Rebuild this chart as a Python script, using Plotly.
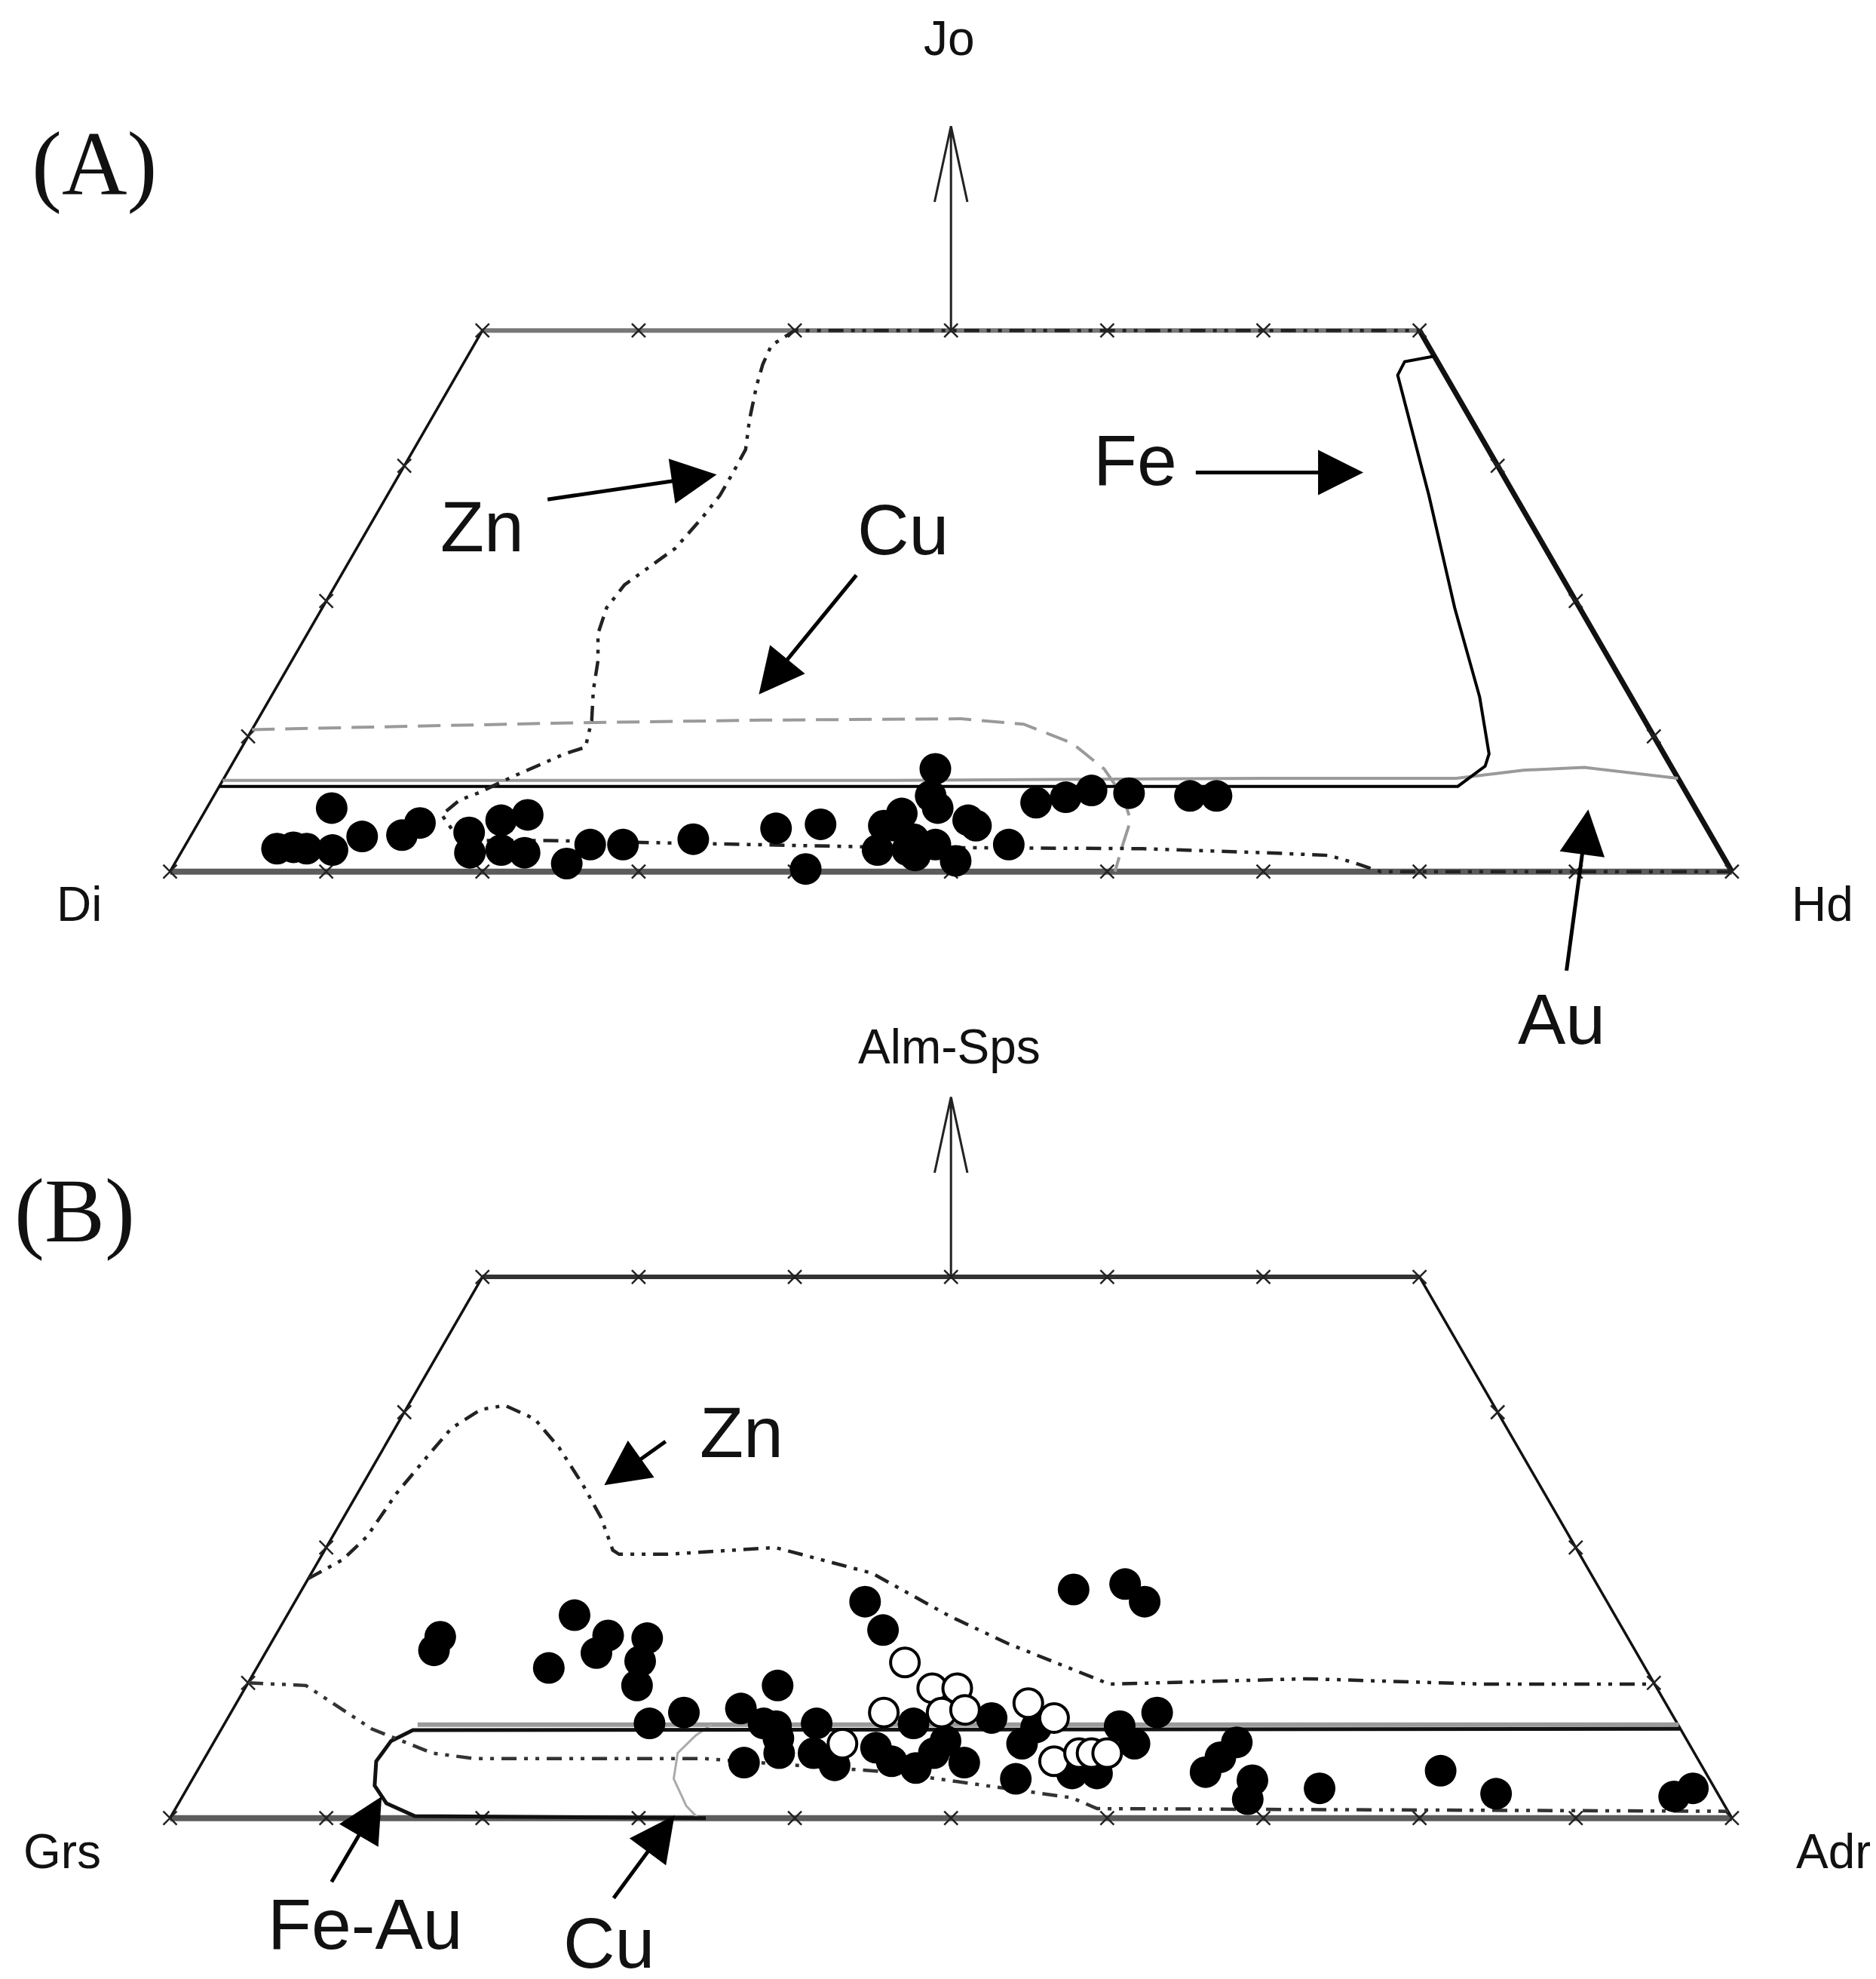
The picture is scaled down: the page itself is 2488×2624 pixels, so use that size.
import plotly.graph_objects as go

# ---------------- Panel A : Di - Hd - Jo pyroxene (mol %, only Jo < 40 shown)
a_dot_hd = [6.0, 7.0, 7.9, 9.6, 8.0, 11.0, 13.5, 14.2, 17.7, 18.5, 19.3, 20.8, 20.4, 22.0,
            25.1, 25.9, 28.0, 32.3, 37.2, 39.9, 40.6, 45.2, 45.9, 44.7, 44.0, 44.5, 46.4,
            47.1, 48.0, 46.8, 49.9, 49.2, 49.9, 52.7, 52.9, 54.6, 56.0, 58.5, 62.5, 64.2,
            46.4, 44.7]
a_dot_jo = [1.7, 1.8, 1.7, 1.6, 4.7, 2.6, 2.7, 3.6, 2.9, 1.4, 3.8, 4.2, 1.6, 1.4,
            0.6, 2.0, 2.0, 2.4, 3.2, 3.5, 0.2, 7.6, 5.6, 3.4, 3.4, 1.6, 1.6,
            1.2, 2.0, 4.7, 0.8, 3.8, 3.4, 2.0, 5.1, 5.5, 6.0, 5.8, 5.6, 5.6,
            2.4, 4.3]

# skarn fields, panel A
a_zn_hd = [100, 77.5, 75.5, 73.6, 69.4, 61.4, 45.2, 23.0, 17.4, 15.3, 15.9, 16.8, 18.4, 19.6,
           20.9, 22.0, 21.4, 20.4, 19.6, 18.6, 18.2, 18.5, 19.3, 20.4, 21.0, 21.3, 21.3,
           21.25, 20.4, 19.6, 19.2, 19.05, 20.0, 60.0]
a_zn_jo = [0, 0, 0.65, 1.2, 1.4, 1.7, 1.8, 2.3, 2.3, 4.2, 5.3, 5.8, 7.0, 7.85,
           8.7, 9.2, 11.2, 13.4, 15.6, 17.6, 19.5, 21.2, 22.3, 23.9, 26.2, 27.8, 29.5,
           31.2, 33.4, 35.9, 37.5, 38.9, 40.0, 40.0]
a_cu_hd = [0, 20.3, 32.4, 45.0, 49.2, 53.0, 56.0, 58.2, 59.6, 60.0, 60.5]
a_cu_jo = [10.5, 11.0, 11.2, 11.3, 10.9, 9.5, 7.6, 5.6, 3.8, 2.0, 0]
a_fe_hd = [0, 34.8, 79.3, 80.3, 80.1, 77.4, 72.5, 66.7, 61.6, 60.25, 60.2, 61.9]
a_fe_jo = [6.3, 6.3, 6.3, 7.8, 8.7, 12.9, 19.5, 27.8, 34.8, 36.7, 37.7, 38.1]
a_au_hd = [0, 42.7, 66.8, 78.9, 82.9, 86.7, 93.1]
a_au_jo = [6.75, 6.75, 6.9, 6.9, 7.5, 7.7, 6.9]

# ---------------- Panel B : Grs - Adr - (Alm+Sps) garnet
b_dot_hd = [10.7, 10.6, 18.7, 18.4, 21.2, 21.3, 23.9, 25.0, 24.3, 27.2, 29.0, 34.0, 32.5,
            35.4, 34.7, 36.6, 34.5, 36.0, 37.9, 40.6, 36.5, 38.7, 44.1, 45.9, 44.1, 48.8,
            48.9, 52.7, 51.8, 52.1, 56.1, 57.7, 57.4, 59.0, 59.3, 49.4, 52.5, 54.4, 64.6,
            65.5, 65.0, 68.3, 67.9, 72.5, 79.6, 84.0, 95.5, 96.4, 46.8, 46.5, 42.6, 38.8]
b_dot_jo = [12.4, 13.4, 11.1, 15.0, 12.2, 13.5, 13.3, 9.8, 11.6, 7.0, 7.8, 9.8, 8.1,
            6.8, 4.1, 4.8, 7.0, 5.9, 7.0, 3.9, 16.0, 13.9, 7.0, 3.7, 4.2, 4.1,
            7.4, 2.9, 5.5, 6.7, 3.3, 3.3, 6.8, 5.5, 7.8, 16.9, 17.3, 16.0, 3.4,
            5.6, 4.5, 1.4, 2.8, 2.2, 3.5, 1.8, 1.6, 2.2, 5.7, 4.8, 5.2, 4.8]
b_open_hd = [41.3, 44.0, 45.6, 45.5, 46.9, 41.8, 40.3, 50.7, 52.9, 54.5, 55.8, 56.6, 57.6]
b_open_jo = [11.5, 9.6, 9.6, 7.8, 8.0, 7.8, 5.5, 8.5, 7.4, 4.2, 4.8, 4.8, 4.8]

b_znu_hd = [0, 1.5, 2.2, 2.5, 3.1, 3.6, 4.8, 6.2, 8.6, 11.2, 14.1, 16.5, 18.45, 19.0, 22.1,
            28.75, 35.9, 42.4, 47.2, 51.9, 55.2, 67.6, 79.2, 90.1]
b_znu_jo = [17.7, 19.1, 20.8, 24.0, 26.7, 28.8, 30.2, 30.5, 29.5, 27.4, 24.65, 22.2, 19.8, 19.5, 19.5,
            20.0, 18.1, 14.95, 12.9, 11.15, 9.9, 10.3, 9.9, 9.9]
b_znl_hd = [0, 3.8, 9.6, 14.4, 17.3, 31.95, 44.4, 57.0, 59.0, 99.5]
b_znl_jo = [10.0, 9.8, 6.6, 4.8, 4.4, 4.4, 3.4, 1.5, 0.7, 0.5]
b_feau_hd = [93.4, 12.3, 11.3, 11.1, 11.9, 13.3, 15.6, 34.3]
b_feau_jo = [6.6, 6.5, 5.7, 4.2, 2.4, 1.1, 0.15, 0]
b_cutop_hd = [12.4, 93.15]
b_cutop_jo = [6.9, 6.9]
b_cu_hd = [31.2, 30.6, 30.1, 30.8, 32.6, 33.8]
b_cu_jo = [6.9, 6.1, 4.8, 2.9, 0.9, 0]

# frame of the truncated triangle, corners and ticks (mol %)
frame_hd = [0, 100, 60, 0, 0]
frame_jo = [0, 0, 40, 40, 0]
tick_hd = [0, 10, 20, 30, 40, 50, 60, 70, 80, 90, 100, 0, 10, 20, 30, 40, 50, 60,
           0, 0, 0, 90, 80, 70]
tick_jo = [0] * 11 + [40] * 7 + [10, 20, 30, 10, 20, 30]


def tx(hd, jo):
    # ternary -> horizontal position (Jo is used directly on y, aspect fixed by ranges)
    return [h + j / 2 for h, j in zip(hd, jo)]


fig = go.Figure()
ZN_DASH = "20px,10px,5px,10px,5px,10px"
FONT = "Liberation Sans, Arial, sans-serif"


def line(hd, jo, color, width, dash="solid", p=""):
    fig.add_trace(go.Scatter(x=tx(hd, jo), y=jo, mode="lines", xaxis="x" + p, yaxis="y" + p,
                             line=dict(color=color, width=width, dash=dash), hoverinfo="skip"))


for p, right_w, top_c in [("", 7, "#777"), ("2", 3.5, "#333")]:
    line(frame_hd[0:2], frame_jo[0:2], "#5c5c5c", 8, p=p)
    line(frame_hd[1:3], frame_jo[1:3], "#111", right_w, p=p)
    line(frame_hd[2:4], frame_jo[2:4], top_c, 6, p=p)
    line(frame_hd[3:5], frame_jo[3:5], "#111", 3.5, p=p)
    fig.add_trace(go.Scatter(x=tx(tick_hd, tick_jo), y=tick_jo, mode="markers",
                             xaxis="x" + p, yaxis="y" + p, hoverinfo="skip",
                             marker=dict(symbol="x-thin", size=18,
                                         line=dict(color="#222", width=2.5))))

# panel A fields
line(a_cu_hd, a_cu_jo, "#9a9a9a", 4, "30px,14px")
line(a_au_hd, a_au_jo, "#9a9a9a", 4)
line(a_fe_hd, a_fe_jo, "#000", 4)
line(a_zn_hd, a_zn_jo, "#222", 4.5, ZN_DASH)
# panel B fields
line(b_cutop_hd, b_cutop_jo, "#9a9a9a", 6, p="2")
line(b_cu_hd, b_cu_jo, "#aaaaaa", 3, p="2")
line(b_feau_hd, b_feau_jo, "#111", 5, p="2")
line(b_znu_hd, b_znu_jo, "#222", 4.5, ZN_DASH, p="2")
line(b_znl_hd, b_znl_jo, "#333", 4.5, ZN_DASH, p="2")

fig.add_trace(go.Scatter(x=tx(a_dot_hd, a_dot_jo), y=a_dot_jo, mode="markers",
                         marker=dict(size=42, color="black"), hoverinfo="skip"))
fig.add_trace(go.Scatter(x=tx(b_dot_hd, b_dot_jo), y=b_dot_jo, mode="markers", xaxis="x2", yaxis="y2",
                         marker=dict(size=42, color="black"), hoverinfo="skip"))
fig.add_trace(go.Scatter(x=tx(b_open_hd, b_open_jo), y=b_open_jo, mode="markers", xaxis="x2", yaxis="y2",
                         marker=dict(size=38, color="white", line=dict(color="black", width=4)),
                         hoverinfo="skip"))

ann = []


def label(text, x, y, size, p="", family=FONT):
    ann.append(dict(text=text, x=x, y=y, xref="x" + p, yref="y" + p, showarrow=False,
                    xanchor="center", yanchor="middle", font=dict(family=family, size=size, color="#111")))


def arrow(x0, y0, x1, y1, p=""):
    ann.append(dict(text="", x=x1, y=y1, ax=x0, ay=y0, xref="x" + p, yref="y" + p,
                    axref="x" + p, ayref="y" + p, showarrow=True, arrowhead=2, arrowsize=2.4,
                    arrowwidth=5, arrowcolor="black"))


label("(A)", -4.85, 52.3, 120, family="Liberation Serif, Times New Roman, serif")
label("Jo", 49.9, 61.6, 64)
label("Di", -5.8, -2.4, 64)
label("Hd", 105.8, -2.4, 64)
label("Zn", 20.0, 25.5, 95)
label("Cu", 46.9, 25.3, 95)
label("Fe", 61.8, 30.4, 95)
label("Au", 89.1, -10.9, 95)
arrow(24.1, 27.5, 35.0, 29.35)
arrow(44.0, 22.0, 37.7, 13.1)
arrow(65.6, 29.5, 76.4, 29.5)
arrow(89.4, -7.4, 90.8, 4.6)

label("(B)", -6.1, 44.9, 120, "2", family="Liberation Serif, Times New Roman, serif")
label("Alm-Sps", 49.9, 57.0, 64, "2")
label("Grs", -6.9, -2.5, 64, "2")
label("Adr", 106.5, -2.5, 64, "2")
label("Zn", 36.6, 28.5, 95, "2")
label("Fe-Au", 12.5, -7.8, 95, "2")
label("Cu", 28.1, -9.2, 95, "2")
arrow(31.8, 27.9, 27.8, 24.6, "2")
arrow(10.3, -4.8, 13.55, 1.6, "2")
arrow(28.35, -6.0, 32.3, 0.2, "2")

shapes = [
    dict(type="path", xref="x", yref="y", line=dict(color="#222", width=3),
         path="M 50 40 L 50 55.1 M 48.95 49.5 L 50 55.1 L 51.05 49.5"),
    dict(type="path", xref="x2", yref="y2", line=dict(color="#222", width=3),
         path="M 50 40 L 50 53.3 M 48.95 47.7 L 50 53.3 L 51.05 47.7"),
]

ax = dict(visible=False, showgrid=False, zeroline=False, range=[-10.5, 109.61], fixedrange=True)
fig.update_layout(
    width=2488, height=2624, showlegend=False,
    margin=dict(l=0, r=0, t=0, b=0, pad=0),
    paper_bgcolor="white", plot_bgcolor="white",
    xaxis=dict(ax, domain=[0, 1], anchor="y"),
    # panel A axis reaches a bit lower than the half page so the "Au" label stays inside its range
    yaxis=dict(visible=False, showgrid=False, zeroline=False, domain=[0.45, 1],
               range=[-16.47, 63.98], anchor="x"),
    xaxis2=dict(ax, domain=[0, 1], anchor="y2"),
    yaxis2=dict(visible=False, showgrid=False, zeroline=False, domain=[0, 0.5],
                range=[-12.34, 60.8], anchor="x2"),
    annotations=ann, shapes=shapes,
)

fig.write_html("out.html")
